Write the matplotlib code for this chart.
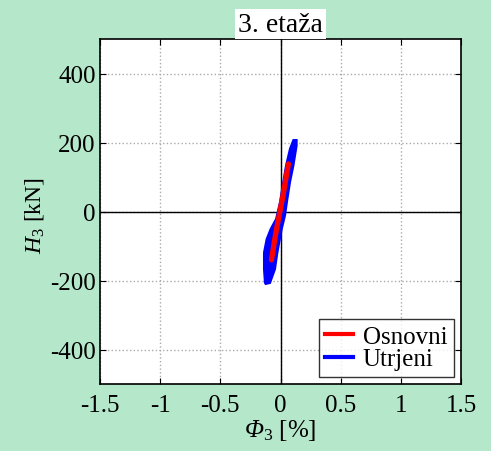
import numpy as np
import matplotlib
matplotlib.use('Agg')
import matplotlib.pyplot as plt

plt.rcParams['font.family'] = ['Liberation Serif', 'DejaVu Serif']
plt.rcParams['mathtext.fontset'] = 'custom'
plt.rcParams['mathtext.rm'] = 'Liberation Serif:italic'
plt.rcParams['mathtext.it'] = 'Liberation Serif:italic'
plt.rcParams['mathtext.sf'] = 'Liberation Serif'

# outline of the blue (Utrjeni) hysteresis band, drift [%] vs force [kN]
utrjeni_phi = [-0.123, -0.087, -0.046, -0.026, 0.010, 0.037, 0.057, 0.079, 0.107, 0.134, 0.134,
               0.107, 0.079, 0.046, 0.018, -0.004, -0.037, -0.082, -0.115, -0.137, -0.137, -0.129]
utrjeni_h = [-210, -207, -167, -119, -51, -12, 36, 85, 133, 191, 207,
             207, 182, 133, 75, 27, -22, -51, -80, -119, -167, -207]

# red (Osnovni) response
osnovni_phi = [-0.075, -0.052, -0.030, -0.005, 0.020, 0.042, 0.066]
osnovni_h = [-140, -90, -45, 0, 45, 90, 138]

xticks = [-1.5, -1, -0.5, 0, 0.5, 1, 1.5]
yticks = [-400, -200, 0, 200, 400]

bg = '#b5e8cb'
fig = plt.figure(figsize=(4.91, 4.52), dpi=100, facecolor=bg)
ax = fig.add_axes([100 / 491, 1 - 385 / 452, 361 / 491, 345 / 452])

ax.fill(utrjeni_phi, utrjeni_h, color='blue', lw=1.5, ec='blue', zorder=3)
ax.plot([], [], color='red', lw=3, label='Osnovni')
ax.plot([], [], color='blue', lw=3, label='Utrjeni')
ax.plot(osnovni_phi, osnovni_h, color='red', lw=3.8, solid_capstyle='round', zorder=4)

ax.axhline(0, color='black', lw=1, zorder=2)
ax.axvline(0, color='black', lw=1, zorder=2)

ax.set_xlim(-1.5, 1.5)
ax.set_ylim(-500, 500)
ax.set_xticks(xticks)
ax.set_xticklabels(['-1.5', '-1', '-0.5', '0', '0.5', '1', '1.5'])
ax.set_yticks(yticks)
ax.set_yticklabels(['-400', '-200', '0', '200', '400'])
ax.tick_params(direction='in', top=True, right=True, labelsize=18, length=4)
ax.tick_params(axis='x', pad=7)
ax.tick_params(axis='y', pad=3)
ax.grid(True, color='#aaaaaa', linestyle=':', lw=1)
for s in ax.spines.values():
    s.set_linewidth(1.2)

ax.set_xlabel(r'$\Phi_{\mathsf{3}}$ [%]', fontsize=18, labelpad=1)
ax.set_ylabel(r'$H_{\mathsf{3}}$ [kN]', fontsize=17)
ax.yaxis.set_label_coords(-54 / 361, 0.49)
ax.set_title('3. etaža', fontsize=20, pad=6,
             bbox=dict(facecolor='white', edgecolor='none', pad=2))

leg = ax.legend(loc='lower right', fontsize=18, frameon=True, fancybox=False,
                edgecolor='black', handlelength=1.1, borderpad=0.25,
                labelspacing=0.0, handletextpad=0.4, borderaxespad=0.3)
leg.get_frame().set_linewidth(1)

fig.savefig('out.png', dpi=100, facecolor=bg)
